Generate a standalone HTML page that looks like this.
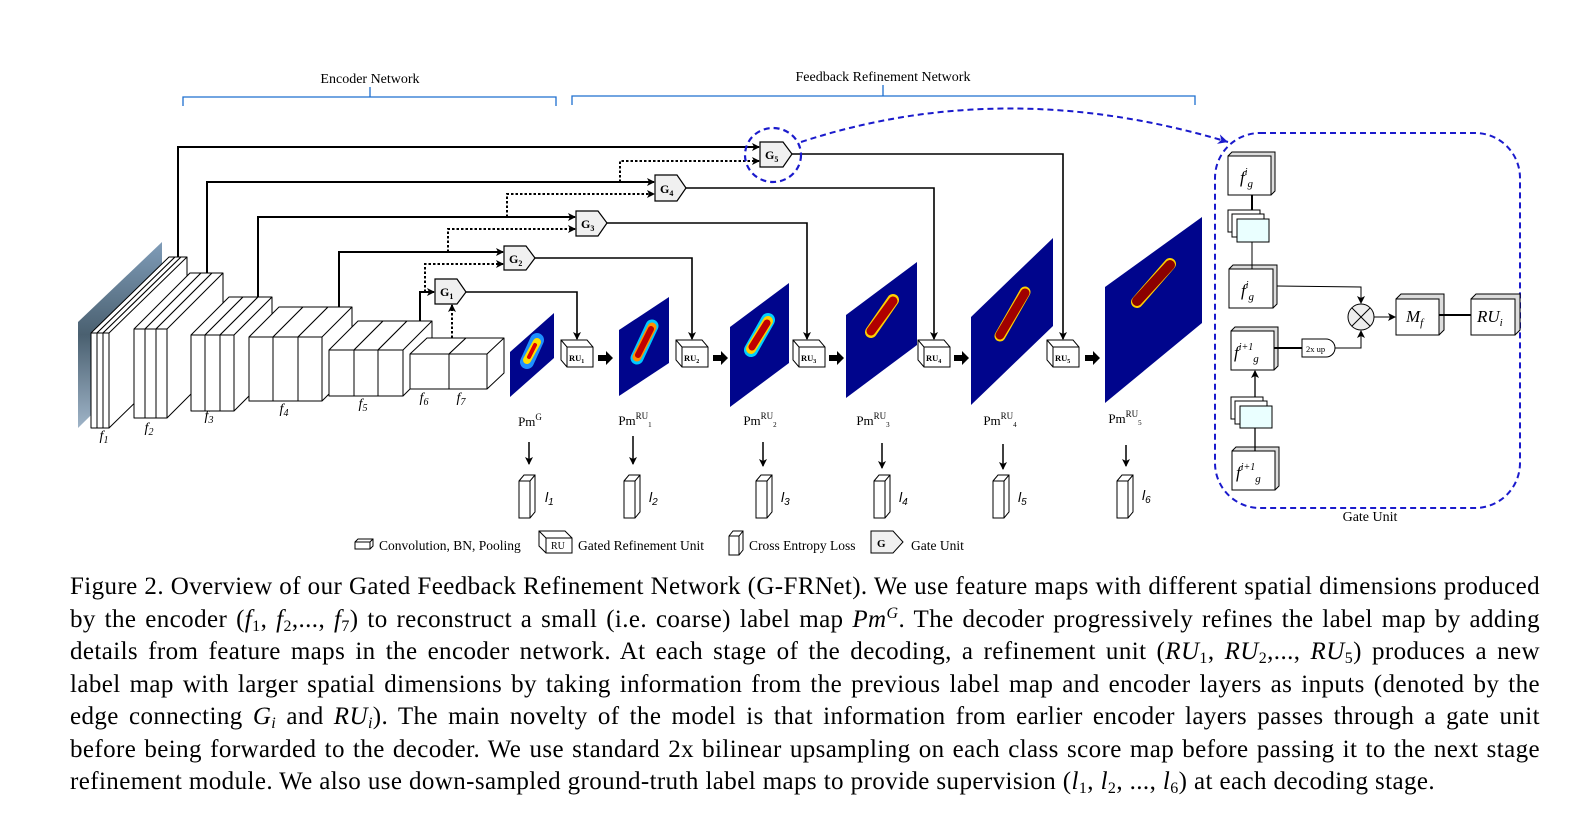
<!DOCTYPE html>
<html><head><meta charset="utf-8"><style>
html,body{margin:0;padding:0;background:#fff;}
body{width:1593px;height:828px;position:relative;overflow:hidden;font-family:"Liberation Serif",serif;}
svg{position:absolute;left:0;top:0;}
.cap{position:absolute;left:70px;width:1470px;font-size:25px;letter-spacing:0.4px;line-height:32.5px;color:#000;white-space:nowrap;}
.cap div{text-align:justify;text-align-last:justify;height:32.5px;}
.cap div.last{text-align-last:left;}
i{font-style:italic;}
sub{font-size:16px;vertical-align:-4px;line-height:0;}
sup{font-size:16px;vertical-align:9px;line-height:0;}
</style></head><body>
<svg width="1593" height="828" viewBox="0 0 1593 828" font-family="Liberation Serif, serif">
<defs>
<marker id="a" markerWidth="8" markerHeight="8" refX="7" refY="4" orient="auto" markerUnits="userSpaceOnUse"><path d="M0,0 L8,4 L0,8 L2,4 z" fill="#000"/></marker>
<marker id="ab" markerWidth="12" markerHeight="12" refX="10" refY="6" orient="auto" markerUnits="userSpaceOnUse"><path d="M0,1 L10,6 L0,11 L3,6 z" fill="#1a1acc"/></marker>
<linearGradient id="img" x1="0" y1="0" x2="0" y2="1"><stop offset="0" stop-color="#7f9cb8"/><stop offset="0.5" stop-color="#4a6070"/><stop offset="1" stop-color="#9fb4c8"/></linearGradient>
</defs>

<g fill="#000" font-size="14" text-anchor="middle">
<text x="370" y="83">Encoder Network</text>
<text x="883" y="81">Feedback Refinement Network</text>
</g>
<g stroke="#1e6fcf" stroke-width="1.3" fill="none">
<polyline points="183,106 183,97 556,97 556,106"/><line x1="370" y1="97" x2="370" y2="87"/>
<polyline points="572,105 572,96 1195,96 1195,105"/><line x1="883" y1="96" x2="883" y2="85"/>
</g>

<polygon points="78,322 162,242 162,345 78,428" fill="url(#img)"/>

<g fill="#fff" stroke="#000" stroke-width="1" stroke-linejoin="round">
<polygon points="91,333 169,257 175,257 175,352 97,428 91,428"/><polyline points="91,333 97,333 175,257" fill="none"/><line x1="97" y1="333" x2="97" y2="428"/>
<polygon points="97,333 175,257 181,257 181,352 103,428 97,428"/><polyline points="97,333 103,333 181,257" fill="none"/><line x1="103" y1="333" x2="103" y2="428"/>
<polygon points="103,333 181,257 187,257 187,352 109,428 103,428"/><polyline points="103,333 109,333 187,257" fill="none"/><line x1="109" y1="333" x2="109" y2="428"/>

<polygon points="134,329 190,273 201,273 201,362 145,418 134,418"/><polyline points="134,329 145,329 201,273" fill="none"/><line x1="145" y1="329" x2="145" y2="418"/>
<polygon points="145,329 201,273 212,273 212,362 156,418 145,418"/><polyline points="145,329 156,329 212,273" fill="none"/><line x1="156" y1="329" x2="156" y2="418"/>
<polygon points="156,329 212,273 223,273 223,362 167,418 156,418"/><polyline points="156,329 167,329 223,273" fill="none"/><line x1="167" y1="329" x2="167" y2="418"/>

<polygon points="191,335 229,297 243,297 243,373 205,411 191,411"/><polyline points="191,335 205,335 243,297" fill="none"/><line x1="205" y1="335" x2="205" y2="411"/>
<polygon points="205,335 243,297 258,297 258,373 220,411 205,411"/><polyline points="205,335 220,335 258,297" fill="none"/><line x1="220" y1="335" x2="220" y2="411"/>
<polygon points="220,335 258,297 272,297 272,373 234,411 220,411"/><polyline points="220,335 234,335 272,297" fill="none"/><line x1="234" y1="335" x2="234" y2="411"/>

<polygon points="249,337 279,307 303,307 303,371 273,401 249,401"/><polyline points="249,337 273,337 303,307" fill="none"/><line x1="273" y1="337" x2="273" y2="401"/>
<polygon points="273,337 303,307 328,307 328,371 298,401 273,401"/><polyline points="273,337 298,337 328,307" fill="none"/><line x1="298" y1="337" x2="298" y2="401"/>
<polygon points="298,337 328,307 352,307 352,371 322,401 298,401"/><polyline points="298,337 322,337 352,307" fill="none"/><line x1="322" y1="337" x2="322" y2="401"/>

<polygon points="329,350 358,321 383,321 383,367 354,396 329,396"/><polyline points="329,350 354,350 383,321" fill="none"/><line x1="354" y1="350" x2="354" y2="396"/>
<polygon points="354,350 383,321 407,321 407,367 378,396 354,396"/><polyline points="354,350 378,350 407,321" fill="none"/><line x1="378" y1="350" x2="378" y2="396"/>
<polygon points="378,350 407,321 432,321 432,367 403,396 378,396"/><polyline points="378,350 403,350 432,321" fill="none"/><line x1="403" y1="350" x2="403" y2="396"/>

<polygon points="410,354 427,338 466,338 466,373 449,389 410,389"/><polyline points="410,354 449,354 466,338" fill="none"/><line x1="449" y1="354" x2="449" y2="389"/>
<polygon points="449,354 466,338 504,338 504,373 487,389 449,389"/><polyline points="449,354 487,354 504,338" fill="none"/><line x1="487" y1="354" x2="487" y2="389"/>
</g>
<g font-style="italic" font-size="14" fill="#000" text-anchor="middle">
<text x="104" y="440">f<tspan font-size="10" dy="3">1</tspan></text>
<text x="149" y="432">f<tspan font-size="10" dy="3">2</tspan></text>
<text x="209" y="420">f<tspan font-size="10" dy="3">3</tspan></text>
<text x="284" y="413">f<tspan font-size="10" dy="3">4</tspan></text>
<text x="363" y="408">f<tspan font-size="10" dy="3">5</tspan></text>
<text x="424" y="402">f<tspan font-size="10" dy="3">6</tspan></text>
<text x="461" y="402">f<tspan font-size="10" dy="3">7</tspan></text>
</g>

<g fill="none" stroke="#000" stroke-width="2">
<polyline points="178,257 178,147 759,147" marker-end="url(#a)"/>
<polyline points="207,273 207,182 654,182" marker-end="url(#a)"/>
<polyline points="258,297 258,217 575,217" marker-end="url(#a)"/>
<polyline points="339,307 339,252 503,252" marker-end="url(#a)"/>
<polyline points="420,321 420,292 434,292" marker-end="url(#a)"/>
</g>
<g fill="none" stroke="#000" stroke-width="2" stroke-dasharray="2.5,2">
<polyline points="452,338 452,305" marker-end="url(#a)"/>
<polyline points="425,292 425,264 503,264" marker-end="url(#a)"/>
<polyline points="448,252 448,229 575,229" marker-end="url(#a)"/>
<polyline points="507,217 507,194 654,194" marker-end="url(#a)"/>
<polyline points="620,182 620,161 759,161" marker-end="url(#a)"/>
</g>

<g fill="none" stroke="#000" stroke-width="1.6">
<polyline points="466,292 577,292 577,339" marker-end="url(#a)"/>
<polyline points="535,258 692,258 692,339" marker-end="url(#a)"/>
<polyline points="607,223 807,223 807,339" marker-end="url(#a)"/>
<polyline points="686,188 934,188 934,339" marker-end="url(#a)"/>
<polyline points="792,154 1063,154 1063,339" marker-end="url(#a)"/>
</g>

<g fill="#f0f0f0" stroke="#000" stroke-width="1.2">
<polygon points="435,279 457,279 466,292 457,304 435,304"/>
<polygon points="504,246 526,246 535,258 526,270 504,270"/>
<polygon points="576,211 598,211 607,223 598,236 576,236"/>
<polygon points="655,175 677,175 686,188 677,201 655,201"/>
<polygon points="760,142 783,142 792,154 783,167 760,167"/>
</g>
<g font-weight="bold" font-size="12" fill="#000">
<text x="440" y="296">G<tspan font-size="8" dy="3">1</tspan></text>
<text x="509" y="263">G<tspan font-size="8" dy="3">2</tspan></text>
<text x="581" y="228">G<tspan font-size="8" dy="3">3</tspan></text>
<text x="660" y="193">G<tspan font-size="8" dy="3">4</tspan></text>
<text x="765" y="159">G<tspan font-size="8" dy="3">5</tspan></text>
</g>
<ellipse cx="773" cy="155" rx="28" ry="27" fill="none" stroke="#1a1acc" stroke-width="2.2" stroke-dasharray="6,4"/>
<path d="M801,142 Q1005,75 1228,142" fill="none" stroke="#1a1acc" stroke-width="2" stroke-dasharray="6,4" marker-end="url(#ab)"/>

<g fill="#00058c">
<polygon points="510,352 554,313 554,358 510,397"/>
<polygon points="619,330 669,297 669,363 619,396"/>
<polygon points="730,327 789,283 789,363 730,407"/>
<polygon points="846,315 917,262 917,345 846,398"/>
<polygon points="971,317 1053,238 1053,326 971,405"/>
<polygon points="1105,287 1202,217 1202,323 1105,403"/>
</g>
<g stroke-linecap="round" fill="none">
<line x1="527" y1="362" x2="537" y2="340" stroke="#1e90ff" stroke-width="14"/>
<line x1="527" y1="360" x2="537" y2="342" stroke="#ffe000" stroke-width="8"/>
<line x1="529" y1="357" x2="535" y2="345" stroke="#e00000" stroke-width="4"/>
<line x1="637" y1="358" x2="652" y2="326" stroke="#00c8ff" stroke-width="13"/>
<line x1="637" y1="357" x2="652" y2="327" stroke="#ff9000" stroke-width="9"/>
<line x1="638" y1="355" x2="651" y2="329" stroke="#c00000" stroke-width="6"/>
<line x1="751" y1="350" x2="768" y2="320" stroke="#00d0ff" stroke-width="14"/>
<line x1="751" y1="349" x2="768" y2="321" stroke="#ffd000" stroke-width="10"/>
<line x1="752" y1="347" x2="767" y2="323" stroke="#c00000" stroke-width="7"/>
<line x1="871" y1="332" x2="893" y2="300" stroke="#ffd000" stroke-width="12"/>
<line x1="871" y1="331" x2="893" y2="301" stroke="#b00000" stroke-width="9"/>
<line x1="1000" y1="336" x2="1025" y2="292" stroke="#ffd000" stroke-width="11"/>
<line x1="1000" y1="335" x2="1025" y2="293" stroke="#a00000" stroke-width="9"/>
<line x1="1137" y1="302" x2="1170" y2="264" stroke="#ffd000" stroke-width="12"/>
<line x1="1137" y1="301" x2="1170" y2="265" stroke="#8b0000" stroke-width="10"/>
</g>

<g fill="#fff" stroke="#000" stroke-width="1">
<g transform="translate(561,340)"><polygon points="0,0 26,0 32,7 32,27 6,27 0,20"/><polyline points="0,0 6,7 32,7" fill="none"/><line x1="6" y1="7" x2="6" y2="27"/></g>
<g transform="translate(676,340)"><polygon points="0,0 26,0 32,7 32,27 6,27 0,20"/><polyline points="0,0 6,7 32,7" fill="none"/><line x1="6" y1="7" x2="6" y2="27"/></g>
<g transform="translate(793,340)"><polygon points="0,0 26,0 32,7 32,27 6,27 0,20"/><polyline points="0,0 6,7 32,7" fill="none"/><line x1="6" y1="7" x2="6" y2="27"/></g>
<g transform="translate(918,340)"><polygon points="0,0 26,0 32,7 32,27 6,27 0,20"/><polyline points="0,0 6,7 32,7" fill="none"/><line x1="6" y1="7" x2="6" y2="27"/></g>
<g transform="translate(1047,340)"><polygon points="0,0 26,0 32,7 32,27 6,27 0,20"/><polyline points="0,0 6,7 32,7" fill="none"/><line x1="6" y1="7" x2="6" y2="27"/></g>
</g>
<g font-weight="bold" font-size="8.5" fill="#000">
<text x="569" y="361">RU<tspan font-size="6" dy="2">1</tspan></text>
<text x="684" y="361">RU<tspan font-size="6" dy="2">2</tspan></text>
<text x="801" y="361">RU<tspan font-size="6" dy="2">3</tspan></text>
<text x="926" y="361">RU<tspan font-size="6" dy="2">4</tspan></text>
<text x="1055" y="361">RU<tspan font-size="6" dy="2">5</tspan></text>
</g>
<g fill="#000">
<polygon points="598,355 606,355 606,351 613,358 606,365 606,361 598,361"/>
<polygon points="713,355 721,355 721,351 728,358 721,365 721,361 713,361"/>
<polygon points="829,355 837,355 837,351 844,358 837,365 837,361 829,361"/>
<polygon points="954,355 962,355 962,351 969,358 962,365 962,361 954,361"/>
<polygon points="1085,355 1093,355 1093,351 1100,358 1093,365 1093,361 1085,361"/>
</g>

<g font-size="13" fill="#000" text-anchor="middle">
<text x="530" y="426">Pm<tspan font-size="9" dy="-6">G</tspan></text>
<text x="635" y="425">Pm<tspan font-size="9" dy="-6">RU</tspan><tspan font-size="7" dy="8">1</tspan></text>
<text x="760" y="425">Pm<tspan font-size="9" dy="-6">RU</tspan><tspan font-size="7" dy="8">2</tspan></text>
<text x="873" y="425">Pm<tspan font-size="9" dy="-6">RU</tspan><tspan font-size="7" dy="8">3</tspan></text>
<text x="1000" y="425">Pm<tspan font-size="9" dy="-6">RU</tspan><tspan font-size="7" dy="8">4</tspan></text>
<text x="1125" y="423">Pm<tspan font-size="9" dy="-6">RU</tspan><tspan font-size="7" dy="8">5</tspan></text>
</g>
<g stroke="#000" stroke-width="1.5">
<line x1="529" y1="442" x2="529" y2="464" marker-end="url(#a)"/>
<line x1="633" y1="436" x2="633" y2="464" marker-end="url(#a)"/>
<line x1="763" y1="442" x2="763" y2="466" marker-end="url(#a)"/>
<line x1="882" y1="443" x2="882" y2="468" marker-end="url(#a)"/>
<line x1="1003" y1="444" x2="1003" y2="469" marker-end="url(#a)"/>
<line x1="1126" y1="445" x2="1126" y2="466" marker-end="url(#a)"/>
</g>
<g fill="#fff" stroke="#000" stroke-width="1">
<g transform="translate(519,475)"><polygon points="0,6 5,0 16,0 16,37 11,43 0,43"/><polyline points="0,6 11,6 16,0" fill="none"/><line x1="11" y1="6" x2="11" y2="43"/></g>
<g transform="translate(624,475)"><polygon points="0,6 5,0 16,0 16,37 11,43 0,43"/><polyline points="0,6 11,6 16,0" fill="none"/><line x1="11" y1="6" x2="11" y2="43"/></g>
<g transform="translate(756,475)"><polygon points="0,6 5,0 16,0 16,37 11,43 0,43"/><polyline points="0,6 11,6 16,0" fill="none"/><line x1="11" y1="6" x2="11" y2="43"/></g>
<g transform="translate(874,475)"><polygon points="0,6 5,0 16,0 16,37 11,43 0,43"/><polyline points="0,6 11,6 16,0" fill="none"/><line x1="11" y1="6" x2="11" y2="43"/></g>
<g transform="translate(993,475)"><polygon points="0,6 5,0 16,0 16,37 11,43 0,43"/><polyline points="0,6 11,6 16,0" fill="none"/><line x1="11" y1="6" x2="11" y2="43"/></g>
<g transform="translate(1117,475)"><polygon points="0,6 5,0 16,0 16,37 11,43 0,43"/><polyline points="0,6 11,6 16,0" fill="none"/><line x1="11" y1="6" x2="11" y2="43"/></g>
</g>
<g font-style="italic" font-size="14" fill="#000" font-family="Liberation Sans, sans-serif">
<text x="545" y="502">l<tspan font-size="10" dy="3">1</tspan></text>
<text x="649" y="502">l<tspan font-size="10" dy="3">2</tspan></text>
<text x="781" y="502">l<tspan font-size="10" dy="3">3</tspan></text>
<text x="899" y="502">l<tspan font-size="10" dy="3">4</tspan></text>
<text x="1018" y="502">l<tspan font-size="10" dy="3">5</tspan></text>
<text x="1142" y="500">l<tspan font-size="10" dy="3">6</tspan></text>
</g>

<g fill="#fff" stroke="#000" stroke-width="1">
<polygon points="355,542 358,539 373,539 373,546 370,549 355,549"/><polyline points="355,542 370,542 373,539" fill="none"/><line x1="370" y1="542" x2="370" y2="549"/>
<polygon points="539,531 565,531 572,538 572,553 546,553 539,546"/><polyline points="539,531 546,538 572,538" fill="none"/><line x1="546" y1="538" x2="546" y2="553"/>
<polygon points="729,536 733,531 743,531 743,550 739,555 729,555"/><polyline points="729,536 739,536 743,531" fill="none"/><line x1="739" y1="536" x2="739" y2="555"/>
<polygon points="871,531 893,531 903,542 893,553 871,553" fill="#f0f0f0"/>
</g>
<g font-size="13.5" fill="#000">
<text x="379" y="550">Convolution, BN, Pooling</text>
<text x="551" y="549" font-size="10">RU</text>
<text x="578" y="550">Gated Refinement Unit</text>
<text x="749" y="550">Cross Entropy Loss</text>
<text x="877" y="547" font-weight="bold" font-size="11">G</text>
<text x="911" y="550">Gate Unit</text>
</g>

<rect x="1215" y="133" width="305" height="375" rx="45" fill="none" stroke="#1a1acc" stroke-width="2" stroke-dasharray="6,4"/>
<text x="1370" y="521" font-size="14" text-anchor="middle">Gate Unit</text>
<g stroke="#000" stroke-width="1" fill="#fff">
<g transform="translate(1228,156)"><polygon points="0,0 4,-4 47,-4 47,35 43,39 0,39" fill="#ddd"/><rect x="0" y="0" width="43" height="39"/></g>
<g transform="translate(1229,269)"><polygon points="0,0 4,-4 48,-4 48,35 44,39 0,39" fill="#ddd"/><rect x="0" y="0" width="44" height="39"/></g>
<g transform="translate(1231,331)"><polygon points="0,0 4,-4 47,-4 47,35 43,39 0,39" fill="#ddd"/><rect x="0" y="0" width="43" height="39"/></g>
<g transform="translate(1232,451)"><polygon points="0,0 4,-4 47,-4 47,35 43,39 0,39" fill="#ddd"/><rect x="0" y="0" width="43" height="39"/></g>
<g transform="translate(1396,299)"><polygon points="0,0 5,-5 48,-5 48,31 43,36 0,36" fill="#ddd"/><rect x="0" y="0" width="43" height="36"/></g>
<g transform="translate(1471,299)"><polygon points="0,0 5,-5 49,-5 49,31 44,36 0,36" fill="#ddd"/><rect x="0" y="0" width="44" height="36"/></g>
<rect x="1228" y="210" width="32" height="22"/>
<rect x="1232" y="214" width="32" height="23"/>
<rect x="1237" y="219" width="32" height="23" fill="#eaffff"/>
<rect x="1231" y="397" width="32" height="22"/>
<rect x="1235" y="401" width="32" height="23"/>
<rect x="1240" y="406" width="32" height="22" fill="#eaffff"/>
<circle cx="1361" cy="317" r="13" fill="#eee"/>
<path d="M1302,339 H1326 A9,9 0 0 1 1326,357 H1302 Z"/>
</g>
<g stroke="#000" fill="none">
<line x1="1352" y1="308" x2="1370" y2="326" stroke-width="1"/>
<line x1="1370" y1="308" x2="1352" y2="326" stroke-width="1"/>
<line x1="1252" y1="195" x2="1252" y2="210" stroke-width="2"/>
<line x1="1252" y1="242" x2="1252" y2="269" stroke-width="1"/>
<polyline points="1277,286 1361,287 1361,303" stroke-width="1" marker-end="url(#a)"/>
<line x1="1274" y1="348" x2="1302" y2="348" stroke-width="2"/>
<polyline points="1335,348 1361,348 1361,331" stroke-width="1" marker-end="url(#a)"/>
<line x1="1374" y1="317" x2="1395" y2="317" stroke-width="1" marker-end="url(#a)"/>
<line x1="1439" y1="315" x2="1471" y2="315" stroke-width="2"/>
<line x1="1255" y1="397" x2="1255" y2="371" stroke-width="1.3" marker-end="url(#a)"/>
<line x1="1255" y1="428" x2="1255" y2="451" stroke-width="1.3"/>
</g>
<g font-style="italic" font-size="17" fill="#000">
<text x="1240" y="183">f<tspan font-size="10" dy="-8">i</tspan><tspan font-size="11" dy="12">g</tspan></text>
<text x="1241" y="296">f<tspan font-size="10" dy="-8">i</tspan><tspan font-size="11" dy="12">g</tspan></text>
<text x="1234" y="358">f<tspan font-size="10" dy="-8">i+1</tspan><tspan font-size="11" dy="12">g</tspan></text>
<text x="1236" y="478">f<tspan font-size="10" dy="-8">i+1</tspan><tspan font-size="11" dy="12">g</tspan></text>
<text x="1406" y="322">M<tspan font-size="11" dy="4">f</tspan></text>
<text x="1477" y="322">RU<tspan font-size="11" dy="4">i</tspan></text>
</g>
<text x="1306" y="352" font-size="8.5" fill="#000">2x up</text>
</svg>

<div class="cap" style="top:571px;">
<div>Figure 2. Overview of our Gated Feedback Refinement Network (G-FRNet). We use feature maps with different spatial dimensions produced</div>
<div>by the encoder (<i>f</i><sub>1</sub>, <i>f</i><sub>2</sub>,..., <i>f</i><sub>7</sub>) to reconstruct a small (i.e. coarse) label map <i>Pm</i><sup><i>G</i></sup>. The decoder progressively refines the label map by adding</div>
<div>details from feature maps in the encoder network. At each stage of the decoding, a refinement unit (<i>RU</i><sub>1</sub>, <i>RU</i><sub>2</sub>,..., <i>RU</i><sub>5</sub>) produces a new</div>
<div>label map with larger spatial dimensions by taking information from the previous label map and encoder layers as inputs (denoted by the</div>
<div>edge connecting <i>G</i><sub><i>i</i></sub> and <i>RU</i><sub><i>i</i></sub>). The main novelty of the model is that information from earlier encoder layers passes through a gate unit</div>
<div>before being forwarded to the decoder. We use standard 2x bilinear upsampling on each class score map before passing it to the next stage</div>
<div class="last">refinement module. We also use down-sampled ground-truth label maps to provide supervision (<i>l</i><sub>1</sub>, <i>l</i><sub>2</sub>, ..., <i>l</i><sub>6</sub>) at each decoding stage.</div>
</div>
</body></html>
